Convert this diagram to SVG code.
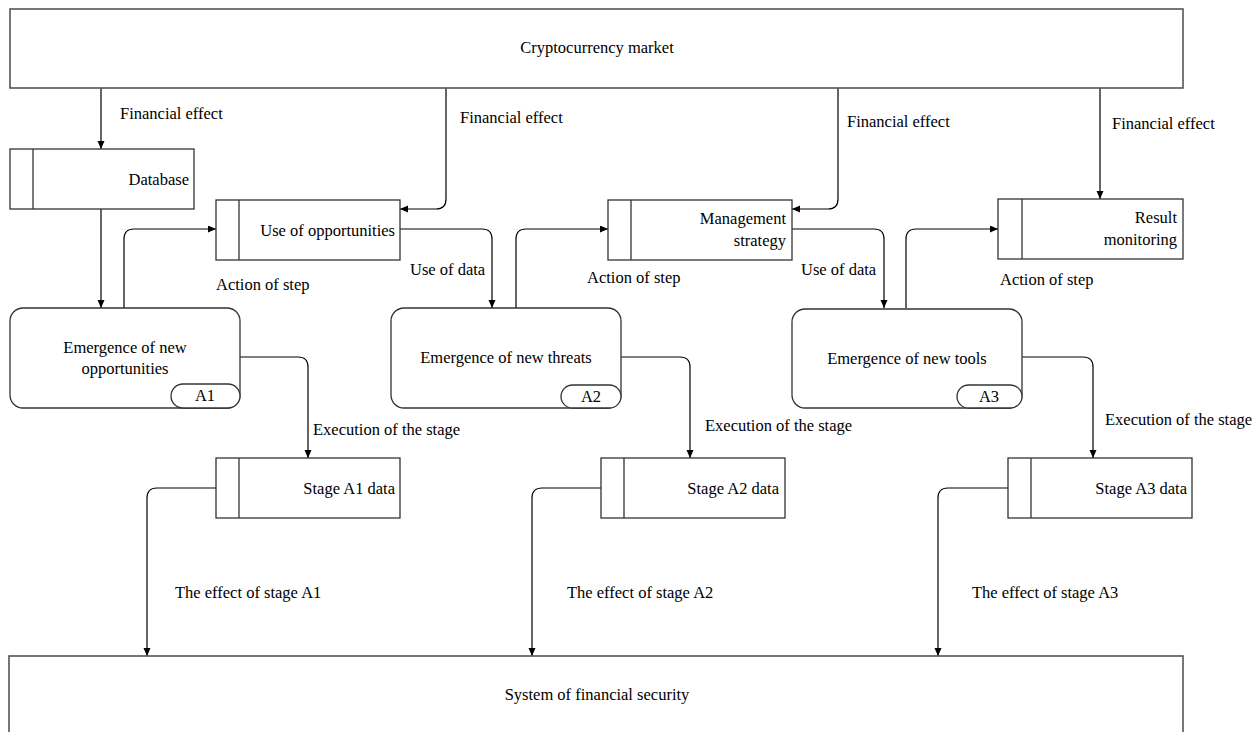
<svg xmlns="http://www.w3.org/2000/svg" width="1255" height="732" viewBox="0 0 1255 732">
<style>
  .box{fill:#fff;stroke:#333;stroke-width:1.3}
  .big{fill:#fff;stroke:#555;stroke-width:1.6}
  .div{stroke:#333;stroke-width:1.3}
  .t{font-family:"Liberation Serif","Times New Roman",serif;font-size:16.5px;fill:#000}
  .c{text-anchor:middle}
  .r{text-anchor:end}
  .con{fill:none;stroke:#000;stroke-width:1.2;marker-end:url(#ah)}
</style>
<defs>
  <marker id="ah" markerUnits="userSpaceOnUse" markerWidth="9" markerHeight="8" refX="8" refY="3.5" orient="auto">
    <path d="M0,0 L8,3.5 L0,7 z" fill="#000"/>
  </marker>
</defs>
<rect width="1255" height="732" fill="#fff"/>

<g id="connectors">
  <path class="con" d="M101 88 V149"/>
  <path class="con" d="M446 88 V199 Q446 209 436 209 H400"/>
  <path class="con" d="M838 88 V199 Q838 209 828 209 H792"/>
  <path class="con" d="M1100 88 V199"/>
  <path class="con" d="M101 209 V308"/>
  <path class="con" d="M124 308 V239 Q124 229 134 229 H216"/>
  <path class="con" d="M400 229 H482 Q492 229 492 239 V308"/>
  <path class="con" d="M516 308 V239 Q516 229 526 229 H608"/>
  <path class="con" d="M792 229 H874 Q884 229 884 239 V308"/>
  <path class="con" d="M906 308 V239 Q906 229 916 229 H998"/>
  <path class="con" d="M240 357 H298 Q308 357 308 367 V458"/>
  <path class="con" d="M621 357 H680 Q690 357 690 367 V458"/>
  <path class="con" d="M1022 357 H1083 Q1093 357 1093 367 V458"/>
  <path class="con" d="M216 488 H157 Q147 488 147 498 V656"/>
  <path class="con" d="M601 488 H542 Q532 488 532 498 V656"/>
  <path class="con" d="M1008 488 H948 Q938 488 938 498 V656"/>
  <text class="t" x="120" y="119">Financial effect</text>
  <text class="t" x="460" y="123">Financial effect</text>
  <text class="t" x="847" y="127">Financial effect</text>
  <text class="t" x="1112" y="129">Financial effect</text>
  <text class="t" x="216" y="290">Action of step</text>
  <text class="t" x="587" y="283">Action of step</text>
  <text class="t" x="1000" y="285">Action of step</text>
  <text class="t" x="410" y="275">Use of data</text>
  <text class="t" x="801" y="275">Use of data</text>
  <text class="t" x="313" y="435">Execution of the stage</text>
  <text class="t" x="705" y="431">Execution of the stage</text>
  <text class="t" x="1105" y="425">Execution of the stage</text>
  <text class="t" x="175" y="598">The effect of stage A1</text>
  <text class="t" x="567" y="598">The effect of stage A2</text>
  <text class="t" x="972" y="598">The effect of stage A3</text>
</g>

<g id="crypto-market">
  <rect class="big" x="10" y="9" width="1173" height="79"/>
  <text class="t c" x="597" y="53">Cryptocurrency market</text>
</g>

<g id="database">
  <rect class="box" x="10" y="149" width="184" height="60"/>
  <line class="div" x1="33" y1="149" x2="33" y2="209"/>
  <text class="t r" x="189" y="185">Database</text>
</g>

<g id="use-of-opportunities">
  <rect class="box" x="216" y="200" width="184" height="60"/>
  <line class="div" x1="239" y1="200" x2="239" y2="260"/>
  <text class="t r" x="395" y="236">Use of opportunities</text>
</g>

<g id="management-strategy">
  <rect class="box" x="608" y="200" width="184" height="60"/>
  <line class="div" x1="631" y1="200" x2="631" y2="260"/>
  <text class="t r" x="786" y="224">Management</text>
  <text class="t r" x="786" y="246">strategy</text>
</g>

<g id="result-monitoring">
  <rect class="box" x="998" y="199" width="185" height="60"/>
  <line class="div" x1="1022" y1="199" x2="1022" y2="259"/>
  <text class="t r" x="1177" y="223">Result</text>
  <text class="t r" x="1177" y="245">monitoring</text>
</g>

<g id="a1">
  <rect class="box" x="10" y="308" width="230" height="100" rx="13"/>
  <rect class="box" x="171" y="384" width="69" height="24" rx="12"/>
  <text class="t c" x="125" y="353">Emergence of new</text>
  <text class="t c" x="125" y="374">opportunities</text>
  <text class="t c" x="205" y="401">A1</text>
</g>

<g id="a2">
  <rect class="box" x="391" y="308" width="230" height="100" rx="13"/>
  <rect class="box" x="561" y="385" width="60" height="23" rx="11.5"/>
  <text class="t c" x="506" y="363">Emergence of new threats</text>
  <text class="t c" x="591" y="402">A2</text>
</g>

<g id="a3">
  <rect class="box" x="792" y="309" width="230" height="99" rx="13"/>
  <rect class="box" x="957" y="385" width="65" height="23" rx="11.5"/>
  <text class="t c" x="907" y="364">Emergence of new tools</text>
  <text class="t c" x="989" y="402">A3</text>
</g>

<g id="stage-a1-data">
  <rect class="box" x="216" y="458" width="184" height="60"/>
  <line class="div" x1="239" y1="458" x2="239" y2="518"/>
  <text class="t r" x="395" y="494">Stage A1 data</text>
</g>

<g id="stage-a2-data">
  <rect class="box" x="601" y="458" width="184" height="60"/>
  <line class="div" x1="624" y1="458" x2="624" y2="518"/>
  <text class="t r" x="779" y="494">Stage A2 data</text>
</g>

<g id="stage-a3-data">
  <rect class="box" x="1008" y="458" width="184" height="60"/>
  <line class="div" x1="1031" y1="458" x2="1031" y2="518"/>
  <text class="t r" x="1187" y="494">Stage A3 data</text>
</g>

<g id="financial-security">
  <rect class="big" x="9" y="656" width="1174" height="90"/>
  <text class="t c" x="597" y="700">System of financial security</text>
</g>
</svg>
